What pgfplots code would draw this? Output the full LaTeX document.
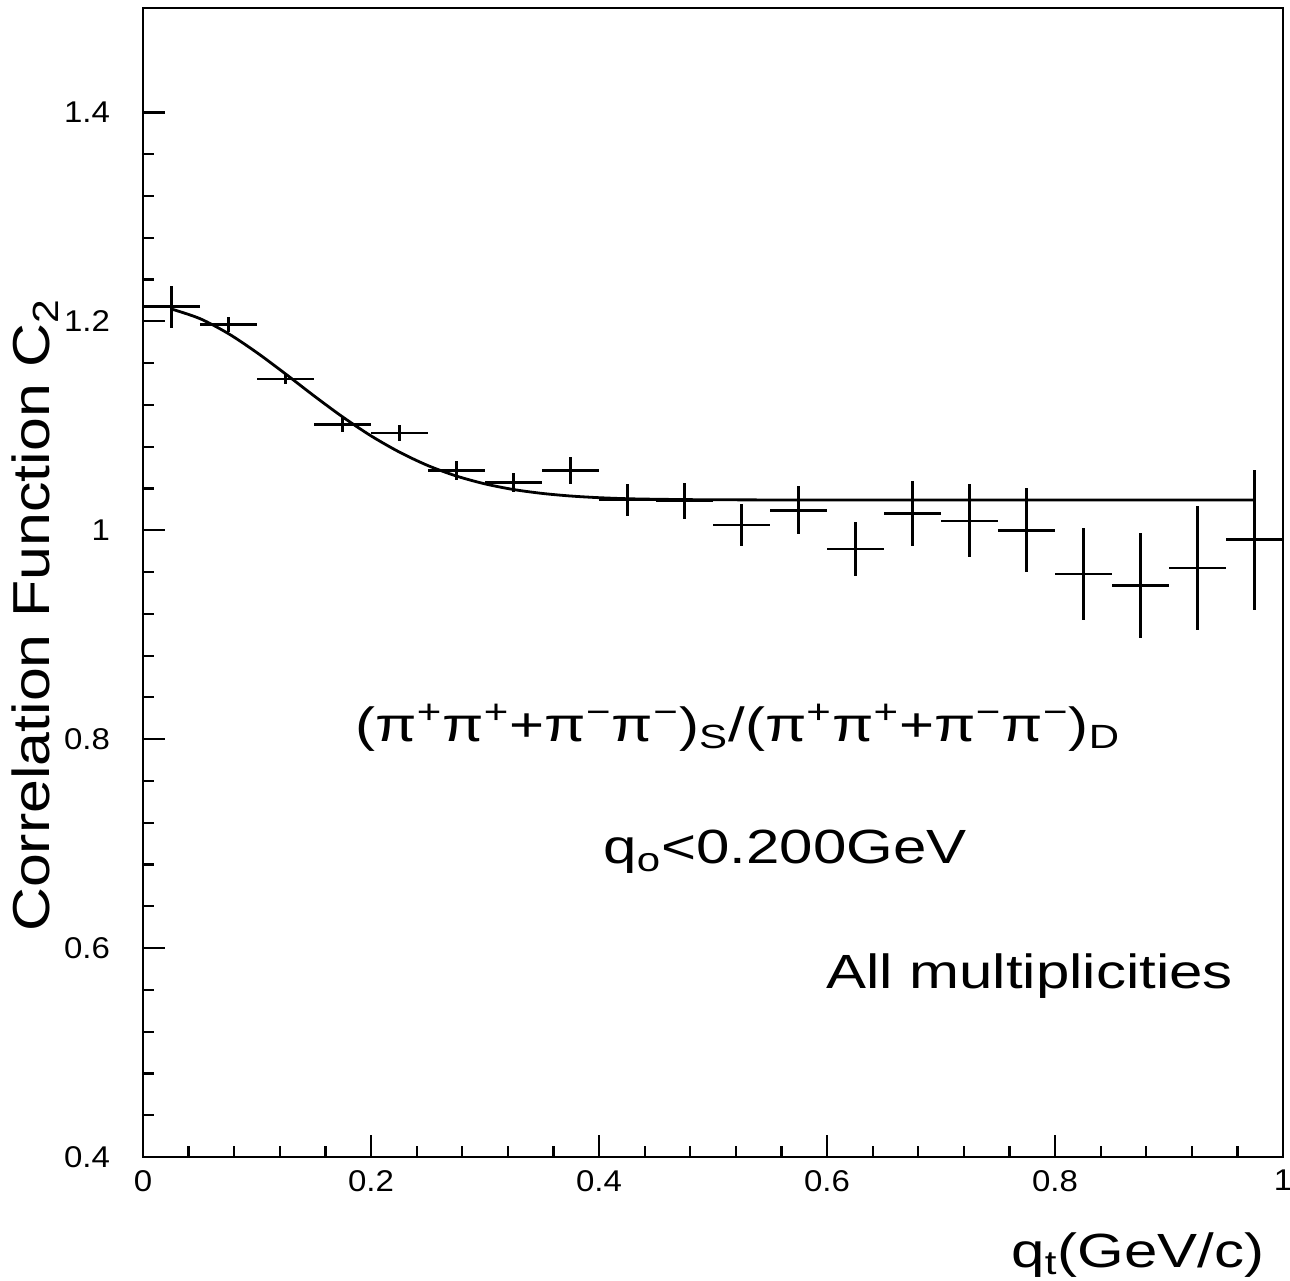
\documentclass[border=0pt]{standalone}
\usepackage{fontspec}
\setmainfont{Liberation Sans}
\usepackage{graphicx}
\usepackage{pgfplots}
\pgfplotsset{compat=1.18}
\newcommand{\wx}[2][1.25]{\scalebox{#1}[1]{#2}}

\pgfplotstableread{
x y ex ey
0.025 1.214 0.025 0.020
0.075 1.197 0.025 0.007
0.125 1.145 0.025 0.005
0.175 1.101 0.025 0.007
0.225 1.093 0.025 0.008
0.275 1.057 0.025 0.009
0.325 1.046 0.025 0.009
0.375 1.057 0.025 0.013
0.425 1.029 0.025 0.015
0.475 1.028 0.025 0.017
0.525 1.005 0.025 0.020
0.575 1.019 0.025 0.023
0.625 0.982 0.025 0.026
0.675 1.016 0.025 0.031
0.725 1.009 0.025 0.035
0.775 1.000 0.025 0.040
0.825 0.958 0.025 0.044
0.875 0.947 0.025 0.050
0.925 0.964 0.025 0.059
0.975 0.991 0.025 0.067
}\datatable

\pgfplotstableread{
x y
0.025 1.2118
0.05 1.2026
0.075 1.1882
0.1 1.1700
0.125 1.1497
0.15 1.1287
0.175 1.1086
0.2 1.0904
0.225 1.0748
0.25 1.0619
0.275 1.0519
0.3 1.0444
0.325 1.0390
0.35 1.0353
0.375 1.0328
0.4 1.0312
0.425 1.0302
0.45 1.0297
0.475 1.0294
0.5 1.0292
0.6 1.0290
0.975 1.0290
}\fittable

\begin{document}
\begin{tikzpicture}
\begin{axis}[
  scale only axis, width=570pt, height=574.5pt,
  xmin=0, xmax=1, ymin=0.4, ymax=1.5,
  xtick={0,0.2,0.4,0.6,0.8,1},
  ytick={0.4,0.6,0.8,1,1.2,1.4},
  minor x tick num=4, minor y tick num=4,
  tick pos=left, tick align=inside,
  major tick length=11pt, minor tick length=5.5pt,
  axis line style={line width=1.3pt},
  every tick/.style={black, line width=1.1pt},
  /pgf/number format/assume math mode=true,
  ticklabel style={font=\fontsize{15}{17}\selectfont},
  xticklabel={\wx[1.1]{\pgfmathprintnumber{\tick}}},
  yticklabel={\wx[1.1]{\pgfmathprintnumber{\tick}}},
  xticklabel style={yshift=-3pt},
  yticklabel style={xshift=-13pt},
  clip=false,
]
\addplot[black, line width=1.3pt, draw=none, mark=none,
  error bars/.cd, x dir=both, x explicit, y dir=both, y explicit,
  error mark=none, error bar style={line width=1.3pt}]
  table[x=x, y=y, x error=ex, y error=ey] {\datatable};
\addplot[black, line width=1.4pt, smooth, mark=none] table[x=x, y=y] {\fittable};

\node[anchor=base west, inner sep=0pt, font=\fontsize{24}{28}\selectfont]
  at (axis cs:0.186,0.798)
  {\wx{(π\textsuperscript{+}π\textsuperscript{+}+π\textsuperscript{−}π\textsuperscript{−})\textsubscript{S}/(π\textsuperscript{+}π\textsuperscript{+}+π\textsuperscript{−}π\textsuperscript{−})\textsubscript{D}}};
\node[anchor=base west, inner sep=0pt, font=\fontsize{24}{28}\selectfont]
  at (axis cs:0.4035,0.6806) {\wx{q\textsubscript{o}<0.200GeV}};
\node[anchor=base west, inner sep=0pt, font=\fontsize{24}{28}\selectfont]
  at (axis cs:0.599,0.5613) {\wx{All multiplicities}};

\node[anchor=base east, inner sep=0pt, font=\fontsize{24}{28}\selectfont]
  at ([yshift=-55pt]axis description cs:0.984,0) {\wx{q\textsubscript{t}(GeV/c)}};
\node[anchor=base, rotate=90, inner sep=0pt, font=\fontsize{26}{30}\selectfont]
  at (axis description cs:-0.0816,0.4717) {\wx[1.17]{Correlation Function C\textsubscript{2}}};
\end{axis}
\pgfresetboundingbox
\path (-71.5pt,-61.5pt) rectangle (573.5pt,578.5pt);
\end{tikzpicture}
\end{document}
